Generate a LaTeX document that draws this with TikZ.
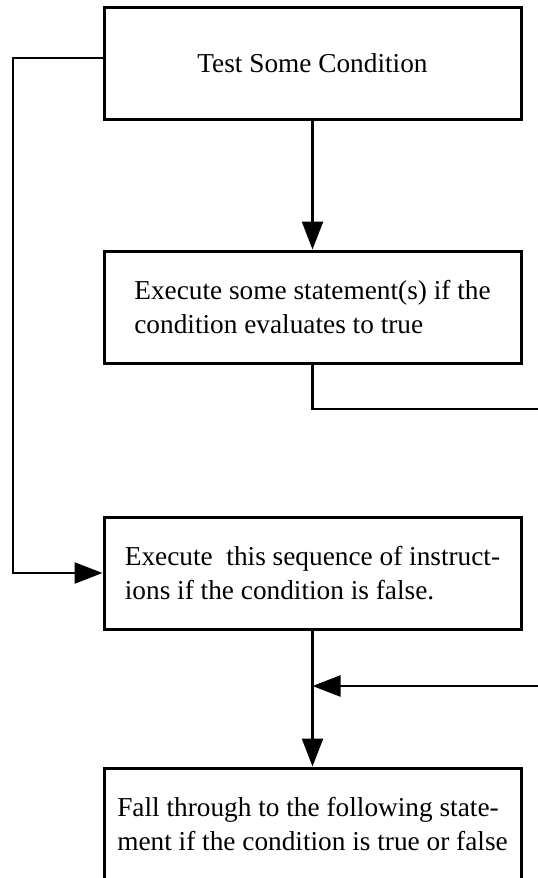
\documentclass[tikz,border=0pt]{standalone}
\usepackage{fontspec}
\setmainfont{Liberation Serif}
\usetikzlibrary{arrows.meta}
\begin{document}
\begin{tikzpicture}[x=1pt,y=-1pt,
  box/.style={draw,line width=3pt,minimum width=417pt,minimum height=112pt,
    inner sep=0pt,font=\fontsize{27.3}{34}\selectfont},
  conn/.style={line width=2.4pt},
  arr/.style={conn,-{Triangle[length=28pt,width=21pt]}}]
\useasboundingbox (0,0) rectangle (538,878);
\node[box,align=center] (b1) at (312.5,63) {Test Some Condition};
\node[box,align=left] (b2) at (312.5,307)
  {Execute some statement(s) if the\\condition evaluates to true};
\node[box,align=left] (b3) at (312.5,573)
  {Execute~~this sequence of instruct-\\ions if the condition is false.};
\node[box,align=left] (b4) at (312.5,824)
  {Fall through to the following state-\\ment if the condition is true or false};
\coordinate (l1) at (13,58);
\coordinate (e1) at (538,409);
\coordinate (e2) at (538,686);
\coordinate (j) at (b3.south |- e2);
\draw[arr] (b1.west |- l1) -- (l1) |- (b3.west);
\draw[arr] (b1.south) -- (b2.north);
\draw[conn] (b2.south) |- (e1);
\draw[arr] (e2) -- (j);
\draw[arr] (b3.south) -- (b4.north);
\end{tikzpicture}
\end{document}
